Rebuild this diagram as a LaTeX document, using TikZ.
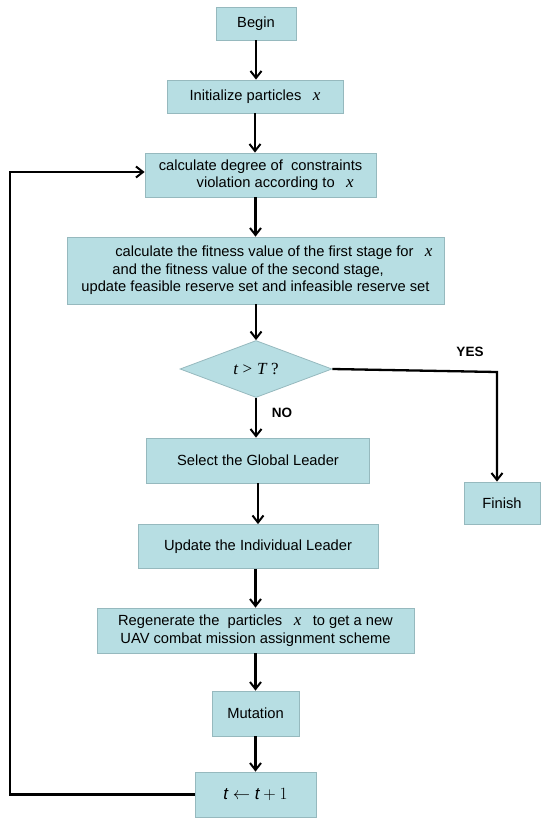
\documentclass[tikz,border=0pt]{standalone}
\usepackage{fontspec}
\setmainfont{Liberation Sans}
\newfontfamily\tms{Liberation Serif}
\usetikzlibrary{shapes.geometric,arrows.meta}
\definecolor{boxfill}{RGB}{183,222,227}
\definecolor{boxline}{RGB}{150,185,190}
\newcommand\vx{{\tms\itshape\fontsize{17}{17}\selectfont x}}
\tikzset{
  fbox/.style={draw=boxline, fill=boxfill, line width=0.8pt, inner sep=2pt, align=center,
    font=\fontsize{14.7}{17.5}\selectfont},
  arr/.style={line width=2.3pt, -{Straight Barb[length=7pt,width=11pt,line width=2pt]}},
  lbl/.style={font=\fontsize{13.5}{15}\selectfont\bfseries}
}
\begin{document}
\begin{tikzpicture}[x=1pt,y=-1pt]
\useasboundingbox (0,0) rectangle (550,825);
\node[fbox, minimum width=80pt, minimum height=33pt] (begin) at (256,23.5) {Begin};
\node[fbox, minimum width=176pt, minimum height=33pt] (init) at (255,96.5) {Initialize particles \enspace\vx};
\node[fbox, minimum width=231pt, minimum height=44pt] (calc) at (260.5,175) {calculate degree of \ constraints\\\hspace*{2em}violation according to \enspace\vx};
\node[fbox, minimum width=377pt, minimum height=67pt] (fit) at (255.5,270.5)
  {\hspace*{2.5em}calculate the fitness value of the first stage for \enspace\vx\\
   \hspace*{-1em}and the fitness value of the second stage,\\
   update feasible reserve set and infeasible reserve set};
\node[diamond, draw=boxline, fill=boxfill, line width=0.8pt, inner sep=0pt, minimum width=152pt, minimum height=50pt,
  font=\fontsize{17}{17}\selectfont] (dia) at (256,369) {{\tms\itshape t} {\tms >} {\tms\itshape T} {\tms ?}};
\node[fbox, minimum width=223pt, minimum height=45pt] (sel) at (258,460.5) {Select the Global Leader};
\node[fbox, minimum width=240pt, minimum height=44pt] (upd) at (258,546.5) {Update the Individual Leader};
\node[fbox, minimum width=317pt, minimum height=45pt] (reg) at (255.5,630.5)
  {Regenerate the \ particles \enspace\vx\enspace\ to get a new\\UAV combat mission assignment scheme};
\node[fbox, minimum width=87pt, minimum height=45pt] (mut) at (255.5,713.5) {Mutation};
\node[fbox, minimum width=121pt, minimum height=45pt, font=\fontsize{17}{17}\selectfont] (tt) at (255.5,794.5)
  {$\mathit{t}\leftarrow\mathit{t}+1$};
\node[fbox, minimum width=76pt, minimum height=42pt] (fin) at (502,503) {Finish};

\node[lbl] (yes) at (470,352) {YES};
\node[lbl] (no) at (282,413) {NO};

\coordinate (yc) at (497,372);
\coordinate (fl) at (10,794.5);
\coordinate (ft) at (10,172);

\draw[arr] (begin.south) -- (begin.south |- init.north);
\draw[arr] (init.south) -- (init.south |- calc.north);
\draw[arr] (calc.south -| fit.north) -- (fit.north);
\draw[arr] (fit.south -| dia.north) -- (dia.north);
\draw[arr] (dia.south) -- (dia.south |- sel.north);
\draw[arr] (sel.south) -- (sel.south |- upd.north);
\draw[arr] (upd.south -| reg.north) -- (reg.north);
\draw[arr] (reg.south) -- (reg.south |- mut.north);
\draw[arr] (mut.south) -- (mut.south |- tt.north);
\draw[arr] (dia.east) -- (yc) -- (yc |- fin.north);
\draw[arr] (tt.west) -- (fl) -- (ft) -- (ft -| calc.west);
\end{tikzpicture}
\end{document}
